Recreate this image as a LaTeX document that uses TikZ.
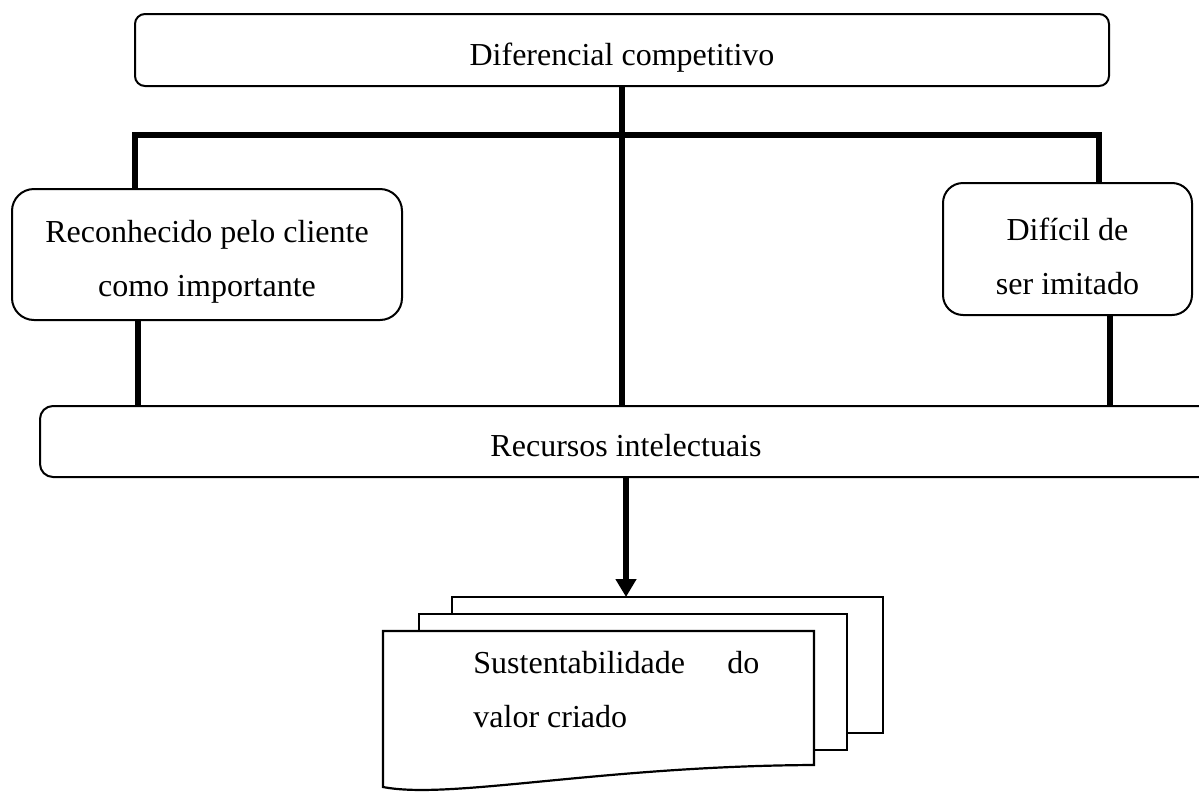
\documentclass[tikz,border=0pt]{standalone}
\usepackage{fontspec}
\setmainfont{Liberation Serif}
\usetikzlibrary{arrows.meta,positioning,calc}

\begin{document}
\begin{tikzpicture}[x=0.5pt,y=-0.5pt,every node/.style={font=\fontsize{16}{27}\selectfont},
  box/.style={draw,line width=1pt,inner sep=0pt,outer sep=0pt},
  oneline/.style={text height=19pt,text depth=4pt},
  conn/.style={line width=3.2pt},
  sheet/.style={draw,fill=white,line width=1.1pt}]
  \useasboundingbox (0,0) rectangle (1199,793);
  % boxes
  \node[box,oneline,rounded corners=5pt,minimum width=487pt,minimum height=36pt] (dif) at (622,50) {Diferencial competitivo};
  \node[box,rounded corners=11pt,minimum width=195pt,minimum height=65.5pt,align=center] (cli) at (207,254.5) {\strut Reconhecido pelo cliente\\como importante};
  \node[box,rounded corners=10pt,minimum width=124.5pt,minimum height=66pt,align=center] (imi) at (1067.5,249) {\strut Difícil de\\ser imitado};
  \node[box,oneline,rounded corners=6.5pt,minimum width=586pt,minimum height=35.5pt] (rec) at (626,441.5) {Recursos intelectuais};
  % bar and legs
  \coordinate (barL) at (135,135);
  \coordinate (barR) at (1099,135);
  \coordinate (dl) at (138,380);
  \coordinate (dr) at (1110,380);
  \draw[conn] (dif.south) -- (dif.south |- rec.north);
  \draw[conn] (cli.north -| barL) -- (barL) -- (barR) -- (imi.north -| barR);
  \draw[conn] (cli.south -| dl) -- (rec.north -| dl);
  \draw[conn] (imi.south -| dr) -- (rec.north -| dr);
  % stacked pages
  \draw[sheet] (452,597) rectangle (883,733);
  \draw[sheet] (419,614) rectangle (847,750);
  \draw[sheet] (383,631) -- (814,631) -- (814,765)
        .. controls (600,766) and (450,800) .. (383,787) -- cycle;
  \node[inner sep=0pt,anchor=north west,text width=143pt,align=justify] (sus) at (473,651) {Sustentabilidade do valor criado};
  \coordinate (pgtop) at (626,597);
  \draw[conn,-{Triangle[length=9pt,width=10pt]}] (rec.south) -- (rec.south |- pgtop);
\end{tikzpicture}
\end{document}
